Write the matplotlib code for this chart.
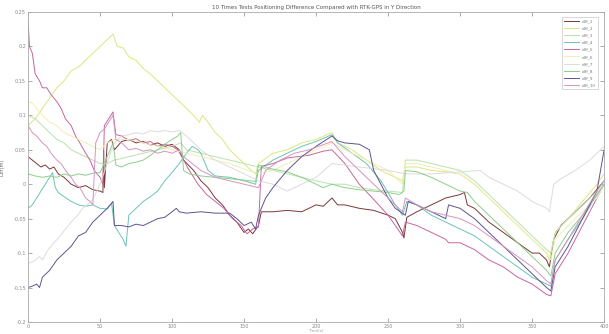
import numpy as np
import matplotlib.pyplot as plt

# values (x = sample index, y = difference in m)
x1 = [0, 3, 6, 9, 12, 15, 18, 21, 25, 30, 35, 40, 45, 50, 52, 52.5, 53, 55, 58, 60, 65, 70, 75, 80, 85, 90, 95, 100, 105, 108, 115, 120, 125, 130, 135, 140, 145, 150, 153, 156, 160, 162, 170, 180, 190, 200, 205, 211, 215, 220, 230, 240, 250, 255, 260, 261, 263, 270, 280, 290, 300, 303, 305, 310, 320, 330, 340, 350, 355, 360, 362, 365, 370, 380, 390, 400]
y1 = [0.04, 0.035, 0.03, 0.025, 0.028, 0.022, 0.025, 0.015, 0.01, 0.0, -0.005, -0.002, -0.008, -0.01, -0.012, 0.05, -0.005, 0.06, 0.065, 0.05, 0.062, 0.065, 0.06, 0.062, 0.057, 0.06, 0.055, 0.058, 0.05, 0.035, 0.02, 0.005, -0.005, -0.02, -0.03, -0.045, -0.055, -0.07, -0.065, -0.072, -0.06, -0.04, -0.04, -0.038, -0.04, -0.03, -0.032, -0.02, -0.03, -0.03, -0.035, -0.038, -0.045, -0.05, -0.07, -0.078, -0.048, -0.04, -0.03, -0.02, -0.015, -0.012, -0.03, -0.035, -0.055, -0.07, -0.085, -0.1, -0.1, -0.11, -0.12, -0.08, -0.06, -0.04, -0.02, 0.005]

x2 = [0, 5, 10, 15, 20, 25, 30, 35, 40, 45, 50, 55, 59, 62, 66, 70, 75, 80, 85, 90, 95, 100, 105, 110, 115, 119, 121, 125, 130, 135, 140, 145, 150, 155, 158, 160, 170, 180, 190, 200, 211, 215, 225, 235, 245, 255, 260, 262, 270, 280, 290, 300, 310, 320, 330, 340, 350, 360, 362, 366, 375, 385, 395, 400]
y2 = [0.085, 0.095, 0.11, 0.125, 0.14, 0.15, 0.165, 0.17, 0.18, 0.19, 0.2, 0.21, 0.218, 0.2, 0.198, 0.185, 0.18, 0.168, 0.16, 0.15, 0.14, 0.13, 0.12, 0.11, 0.1, 0.09, 0.1, 0.09, 0.075, 0.065, 0.05, 0.04, 0.03, 0.02, 0.015, 0.03, 0.045, 0.05, 0.06, 0.065, 0.075, 0.06, 0.05, 0.035, 0.02, 0.01, 0.005, 0.025, 0.025, 0.02, 0.018, 0.015, 0.0, -0.02, -0.04, -0.06, -0.08, -0.1, -0.11, -0.07, -0.05, -0.025, 0.0, 0.015]

x3 = [0, 5, 10, 15, 20, 25, 30, 35, 40, 45, 50, 55, 60, 70, 80, 90, 100, 106, 110, 120, 130, 140, 150, 160, 170, 180, 190, 200, 211, 220, 230, 240, 250, 260, 262, 270, 280, 290, 300, 310, 320, 330, 340, 350, 360, 363, 366, 375, 385, 395, 400]
y3 = [0.1, 0.095, 0.085, 0.075, 0.065, 0.06, 0.05, 0.045, 0.04, 0.035, 0.03, 0.03, 0.035, 0.04, 0.045, 0.05, 0.055, 0.06, 0.05, 0.045, 0.04, 0.035, 0.03, 0.025, 0.02, 0.015, 0.01, 0.005, 0.0, 0.0, -0.005, -0.008, -0.01, -0.012, 0.035, 0.035, 0.03, 0.025, 0.02, 0.005, -0.015, -0.035, -0.055, -0.075, -0.095, -0.1, -0.07, -0.05, -0.03, -0.01, 0.005]

x4 = [0, 3, 6, 9, 12, 15, 17, 19, 21, 25, 30, 35, 40, 45, 50, 55, 58, 60, 63, 66, 68, 70, 75, 80, 85, 90, 95, 100, 105, 110, 114, 118, 120, 122, 125, 130, 140, 150, 158, 160, 170, 180, 190, 200, 211, 215, 225, 235, 245, 255, 260, 263, 270, 280, 290, 300, 310, 320, 330, 340, 350, 360, 363, 366, 375, 385, 395, 400]
y4 = [-0.035, -0.03, -0.02, -0.01, 0.0, 0.01, 0.017, -0.005, -0.012, -0.018, -0.025, -0.03, -0.032, -0.03, -0.035, -0.036, -0.028, -0.06, -0.07, -0.08, -0.09, -0.045, -0.035, -0.025, -0.018, -0.01, 0.005, 0.017, 0.03, 0.045, 0.055, 0.05, 0.045, 0.035, 0.02, 0.012, 0.01, 0.005, 0.0, 0.02, 0.035, 0.045, 0.055, 0.062, 0.072, 0.06, 0.045, 0.03, 0.005, -0.03, -0.045, -0.025, -0.03, -0.045, -0.055, -0.065, -0.075, -0.09, -0.105, -0.12, -0.135, -0.145, -0.148, -0.11, -0.08, -0.05, -0.015, 0.0]

x5 = [0, 1, 3, 5, 8, 10, 13, 16, 20, 23, 26, 30, 33, 36, 40, 43, 46, 50, 52, 53, 56, 59, 61, 65, 70, 75, 80, 85, 90, 95, 100, 104, 108, 112, 118, 124, 130, 136, 142, 148, 152, 156, 160, 162, 170, 180, 187, 195, 205, 211, 220, 230, 240, 250, 255, 260, 262, 270, 280, 290, 292, 300, 310, 320, 330, 340, 350, 360, 363, 366, 375, 385, 395, 400]
y5 = [0.24, 0.2, 0.19, 0.16, 0.15, 0.14, 0.14, 0.13, 0.12, 0.11, 0.095, 0.085, 0.07, 0.06, 0.045, 0.035, 0.02, 0.01, 0.0, 0.085, 0.095, 0.105, 0.072, 0.07, 0.064, 0.066, 0.06, 0.062, 0.055, 0.058, 0.055, 0.05, 0.035, 0.02, 0.0, -0.015, -0.025, -0.035, -0.05, -0.06, -0.072, -0.065, -0.062, 0.026, 0.03, 0.038, 0.04, 0.042, 0.048, 0.05, 0.03, 0.0, -0.022, -0.045, -0.06, -0.075, -0.055, -0.06, -0.07, -0.08, -0.085, -0.085, -0.095, -0.11, -0.12, -0.135, -0.145, -0.16, -0.162, -0.13, -0.1, -0.06, -0.02, 0.0]

x6 = [0, 3, 6, 10, 15, 20, 25, 30, 35, 40, 45, 50, 55, 60, 70, 80, 90, 100, 110, 120, 130, 140, 150, 160, 170, 180, 190, 200, 211, 220, 230, 240, 250, 260, 262, 270, 280, 290, 300, 310, 320, 330, 340, 350, 360, 363, 366, 375, 385, 395, 400]
y6 = [0.12, 0.118, 0.11, 0.1, 0.09, 0.085, 0.075, 0.07, 0.065, 0.06, 0.055, 0.05, 0.06, 0.065, 0.065, 0.06, 0.055, 0.05, 0.045, 0.04, 0.035, 0.03, 0.022, 0.015, 0.02, 0.03, 0.04, 0.05, 0.06, 0.05, 0.04, 0.03, 0.02, 0.0, 0.03, 0.03, 0.025, 0.02, 0.015, 0.0, -0.02, -0.04, -0.06, -0.08, -0.1, -0.11, -0.08, -0.06, -0.04, -0.02, 0.0]

x7 = [0, 4, 8, 10, 14, 18, 22, 26, 30, 34, 38, 42, 45, 50, 55, 58, 60, 65, 70, 75, 80, 85, 90, 95, 100, 105, 110, 115, 120, 130, 140, 150, 160, 170, 180, 185, 190, 200, 211, 230, 250, 262, 280, 300, 314, 320, 330, 340, 350, 360, 362, 365, 370, 380, 390, 400]
y7 = [-0.115, -0.112, -0.105, -0.11, -0.095, -0.085, -0.076, -0.065, -0.055, -0.046, -0.035, -0.028, -0.022, 0.0, 0.03, 0.05, 0.06, 0.07, 0.072, 0.075, 0.073, 0.078, 0.076, 0.078, 0.076, 0.078, 0.07, 0.06, 0.05, 0.035, 0.025, 0.015, 0.005, 0.0, -0.01, -0.005, 0.0, 0.01, 0.03, 0.025, 0.02, 0.015, 0.015, 0.018, 0.02, 0.01, 0.0, -0.01, -0.025, -0.035, -0.04, 0.0, 0.008, 0.02, 0.035, 0.055]

x8 = [0, 5, 10, 15, 20, 25, 30, 35, 40, 45, 50, 55, 59, 61, 65, 70, 75, 80, 85, 90, 95, 100, 104, 106, 108, 112, 120, 130, 140, 150, 158, 160, 170, 180, 190, 200, 205, 211, 220, 230, 240, 250, 258, 261, 262, 270, 280, 290, 300, 305, 310, 320, 330, 340, 350, 360, 363, 366, 375, 385, 395, 400]
y8 = [0.015, 0.012, 0.01, 0.012, 0.01, 0.015, 0.012, 0.015, 0.013, 0.016, 0.017, 0.04, 0.06, 0.028, 0.025, 0.03, 0.032, 0.035, 0.042, 0.05, 0.058, 0.065, 0.07, 0.075, 0.02, 0.015, 0.012, 0.01, 0.008, 0.006, 0.004, 0.028, 0.022, 0.018, 0.01, 0.0, -0.005, 0.0, -0.005, -0.008, -0.01, -0.012, -0.015, -0.01, 0.02, 0.018, 0.01, 0.0, -0.01, -0.012, -0.025, -0.045, -0.065, -0.085, -0.105, -0.125, -0.133, -0.1, -0.07, -0.045, -0.015, 0.0]

x9 = [0, 3, 6, 8, 10, 15, 20, 25, 30, 35, 40, 45, 50, 55, 59, 60, 65, 70, 75, 80, 85, 90, 95, 100, 103, 105, 110, 120, 130, 140, 145, 150, 155, 158, 160, 165, 170, 180, 190, 200, 211, 215, 220, 230, 237, 240, 245, 250, 255, 262, 264, 270, 280, 290, 292, 300, 310, 320, 330, 340, 350, 360, 363, 366, 375, 385, 395, 400]
y9 = [-0.15, -0.148, -0.145, -0.15, -0.135, -0.125, -0.11, -0.1, -0.09, -0.075, -0.07, -0.055, -0.045, -0.035, -0.025, -0.06, -0.06, -0.062, -0.058, -0.06, -0.055, -0.05, -0.048, -0.04, -0.035, -0.04, -0.042, -0.04, -0.042, -0.042, -0.05, -0.06, -0.055, -0.065, -0.045, -0.02, -0.005, 0.02, 0.04, 0.055, 0.07, 0.063, 0.06, 0.058, 0.05, 0.02, 0.0, -0.02, -0.035, -0.045, -0.025, -0.03, -0.04, -0.05, -0.03, -0.035, -0.05, -0.07, -0.09, -0.11, -0.13, -0.15, -0.155, -0.12, -0.09, -0.05, -0.01, 0.05]

x10 = [0, 3, 6, 10, 13, 16, 20, 23, 26, 30, 33, 36, 40, 43, 45, 47, 50, 53, 56, 59, 61, 65, 70, 75, 80, 85, 90, 95, 100, 105, 108, 120, 130, 140, 150, 160, 165, 175, 185, 195, 211, 220, 230, 240, 250, 260, 262, 270, 280, 290, 300, 310, 320, 330, 340, 350, 360, 363, 366, 375, 385, 395, 400]
y10 = [0.085, 0.075, 0.07, 0.06, 0.055, 0.045, 0.035, 0.03, 0.02, 0.01, 0.0, -0.005, -0.02, -0.025, -0.03, 0.06, 0.075, 0.08, 0.09, 0.1, 0.065, 0.06, 0.05, 0.052, 0.048, 0.05, 0.045, 0.048, 0.045, 0.05, 0.04, 0.02, 0.01, 0.005, 0.0, -0.005, 0.02, 0.035, 0.045, 0.05, 0.062, 0.04, 0.02, 0.0, -0.02, -0.04, -0.02, -0.03, -0.04, -0.045, -0.05, -0.06, -0.075, -0.09, -0.105, -0.12, -0.14, -0.145, -0.11, -0.08, -0.045, -0.01, 0.005]

series_x = [x1, x2, x3, x4, x5, x6, x7, x8, x9, x10]
series_y = [y1, y2, y3, y4, y5, y6, y7, y8, y9, y10]
labels = ['diff_1', 'diff_2', 'diff_3', 'diff_4', 'diff_5',
          'diff_6', 'diff_7', 'diff_8', 'diff_9', 'diff_10']
colors = ['#7a3838', '#dde680', '#b9e2ae', '#6cc4b4', '#c566a0',
          '#f1eeb4', '#dcdcdc', '#8dcf8a', '#5e5490', '#d595c0']

xticks = [0, 50, 100, 150, 200, 250, 300, 350, 400]
yticks = [-0.2, -0.15, -0.1, -0.05, 0, 0.05, 0.1, 0.15, 0.2, 0.25]
ytick_labels = ['-0.2', '-0.15', '-0.1', '-0.05', '0', '0.05', '0.1', '0.15', '0.2', '0.25']

fig = plt.figure(figsize=(6.09, 3.34), dpi=100)
ax = fig.add_axes([0.046, 0.036, 0.946, 0.928])

for xs, ys, lab, c in zip(series_x, series_y, labels, colors):
    ax.plot(xs, ys, color=c, linewidth=0.7, label=lab)

ax.set_xlim(0, 400)
ax.set_ylim(-0.2, 0.25)
ax.set_xticks(xticks)
ax.set_yticks(yticks)
ax.set_yticklabels(ytick_labels)
ax.tick_params(direction='in', length=3, width=0.5, labelsize=3.5,
               colors='#888888', top=True, right=True, pad=1.5)
for sp in ax.spines.values():
    sp.set_color('#aaaaaa')
    sp.set_linewidth(0.6)

ax.set_title('10 Times Tests Positioning Difference Compared with RTK-GPS in Y Direction',
             fontsize=4, color='#555555', pad=2)
ax.set_ylabel('Diff(m)', fontsize=3.5, color='#666666', labelpad=6)
ax.set_xlabel('Time(s)', fontsize=3, color='#999999', labelpad=0)

leg = ax.legend(loc='upper right', fontsize=3, frameon=True, fancybox=False,
                handlelength=3.5, labelspacing=0.75, borderpad=0.5,
                edgecolor='#bbbbbb', bbox_to_anchor=(0.993, 0.99))
leg.get_frame().set_linewidth(0.5)
for t in leg.get_texts():
    t.set_color('#777777')

fig.savefig('out.png', dpi=100)
